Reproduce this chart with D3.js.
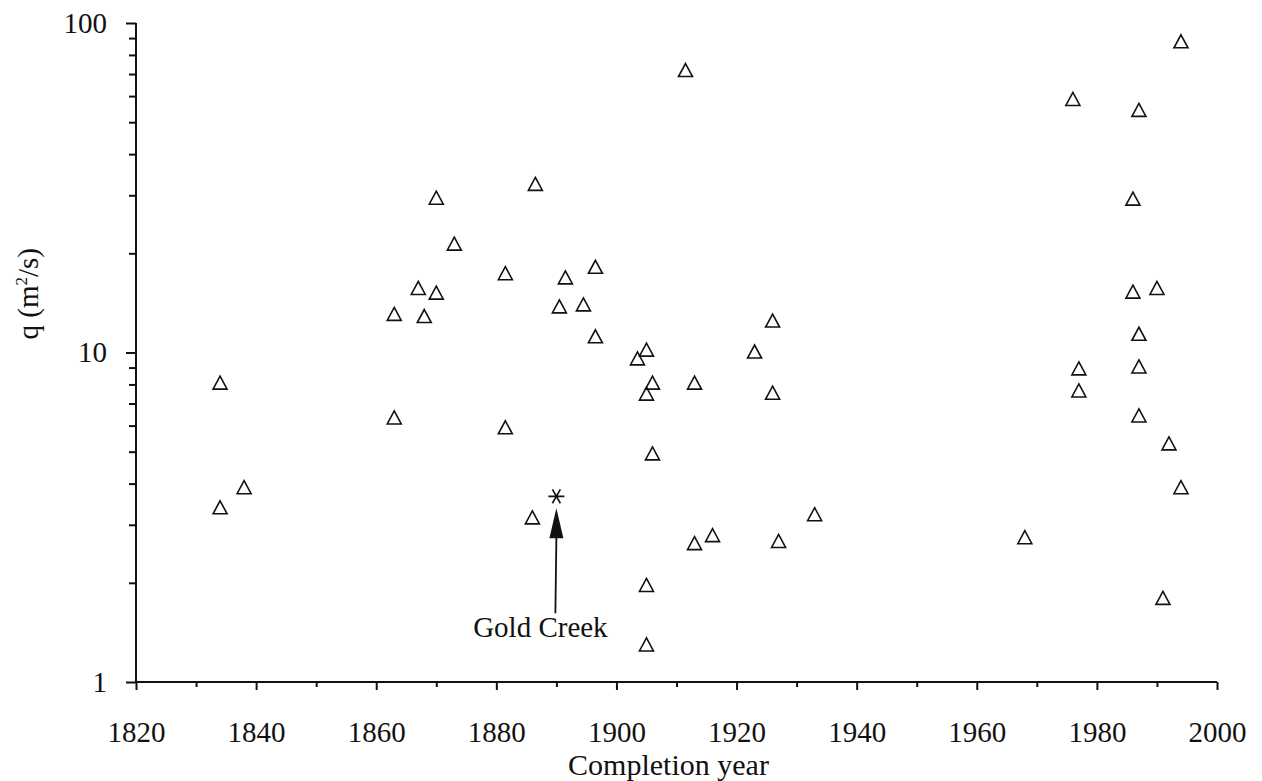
<!DOCTYPE html>
<html>
<head>
<meta charset="utf-8">
<script src="https://cdn.jsdelivr.net/npm/d3@7"></script>
<style>
  html, body { margin: 0; padding: 0; background: #fff; }
  svg { display: block; }
  text { font-family: "Liberation Serif", "Times New Roman", serif; fill: #111; }
</style>
</head>
<body>
<svg id="chart" width="1262" height="781"></svg>
<script>
// ---- data ----
const years = [1834, 1834, 1838, 1863, 1863, 1867, 1868, 1870, 1870, 1873,
  1881.5, 1881.5, 1886.5, 1886, 1890.5, 1891.5, 1894.5, 1896.5, 1896.5, 1903.5,
  1905, 1905, 1906, 1906, 1905, 1905, 1911.5, 1913, 1913, 1916,
  1923, 1926, 1926, 1927, 1933, 1968, 1976, 1977, 1977, 1987,
  1986, 1986, 1990, 1987, 1987, 1987, 1992, 1994, 1991, 1994];
const qValues = [8.1, 3.39, 3.9, 13.1, 6.35, 15.7, 12.9, 29.5, 15.2, 21.4,
  17.4, 5.93, 32.5, 3.16, 13.8, 16.9, 14.0, 18.2, 11.2, 9.6,
  10.2, 7.5, 8.1, 4.94, 1.97, 1.30, 72, 8.1, 2.64, 2.79,
  10.07, 12.5, 7.55, 2.68, 3.23, 2.75, 58.8, 8.95, 7.67, 54.5,
  29.3, 15.3, 15.7, 11.4, 9.07, 6.44, 5.3, 3.9, 1.8, 88];
const highlightYear = [1890];
const highlightQ = [3.66];
const highlightLabel = ["Gold Creek"];
const xMajorTicks = [1820, 1840, 1860, 1880, 1900, 1920, 1940, 1960, 1980, 2000];
const xMinorTicks = [1830, 1850, 1870, 1890, 1910, 1930, 1950, 1970, 1990];
const yMajorTicks = [1, 10, 100];
const yMinorTicks = [2, 3, 4, 5, 6, 7, 8, 9, 20, 30, 40, 50, 60, 70, 80, 90];
const xTitle = "Completion year";

// ---- chart ----
const svg = d3.select("#chart");
const x = d3.scaleLinear().domain([1820, 2000]).range([136, 1217]);
const y = d3.scaleLog().domain([1, 100]).range([682, 23]);
const axisColor = "#111";

// x axis
const gx = svg.append("g").attr("transform", `translate(0,${y(1)})`);
gx.call(d3.axisBottom(x).tickValues(xMajorTicks).tickSize(8).tickPadding(31).tickFormat(d3.format("d")));
const gxm = svg.append("g").attr("transform", `translate(0,${y(1)})`);
gxm.call(d3.axisBottom(x).tickValues(xMinorTicks).tickSize(5).tickFormat(""));
gxm.select(".domain").remove();

// y axis
const gy = svg.append("g").attr("transform", `translate(${x(1820)},0)`);
gy.call(d3.axisLeft(y).tickValues(yMajorTicks).tickSize(10).tickPadding(19).tickFormat(d3.format("d")));
const gym = svg.append("g").attr("transform", `translate(${x(1820)},0)`);
gym.call(d3.axisLeft(y).tickValues(yMinorTicks).tickSize(7).tickFormat(""));
gym.select(".domain").remove();

gx.select(".domain").attr("d", `M${x(1820)},0H${x(2000)}`);
gy.select(".domain").attr("d", `M0,${y(1)}V${y(100)}`);
svg.selectAll(".domain").attr("stroke", axisColor).attr("stroke-width", 2);
svg.selectAll(".tick line").attr("stroke", axisColor).attr("stroke-width", 2);
svg.selectAll(".tick text").attr("font-size", 29).attr("font-family", "Liberation Serif").attr("fill", "#111");

// axis titles
svg.append("text")
  .attr("x", (x(1820) + x(2000)) / 2 - 8)
  .attr("y", 775)
  .attr("text-anchor", "middle")
  .attr("font-size", 30)
  .text(xTitle);

const yt = svg.append("text")
  .attr("transform", `translate(38,${(y(10) + y(100)) / 2 + 106}) rotate(-90)`)
  .attr("text-anchor", "middle")
  .attr("font-size", 29);
yt.append("tspan").text("q (m");
yt.append("tspan").attr("font-size", 17).attr("dy", -11).text("2");
yt.append("tspan").attr("dy", 11).text("/s)");

// triangle markers
const pts = years.map((d, i) => ({ year: d, q: qValues[i] }));
const tri = "M0,-6.5L7,6.5L-7,6.5Z";
svg.append("g").selectAll("path").data(pts).join("path")
  .attr("d", tri)
  .attr("transform", d => `translate(${x(d.year)},${y(d.q)})`)
  .attr("fill", "none")
  .attr("stroke", "#111")
  .attr("stroke-width", 1.6)
  .attr("stroke-linejoin", "miter");

// highlighted (asterisk) point with arrow and label
const hp = highlightYear.map((d, i) => ({ year: d, q: highlightQ[i], label: highlightLabel[i] }));
const hg = svg.append("g");
hp.forEach(d => {
  const cx = x(d.year), cy = y(d.q);
  const p = d3.path();
  const r = 8;
  for (const a of [0, 60, 120]) {
    const rad = a * Math.PI / 180;
    p.moveTo(cx - r * Math.cos(rad), cy - r * Math.sin(rad));
    p.lineTo(cx + r * Math.cos(rad), cy + r * Math.sin(rad));
  }
  hg.append("path").attr("d", p.toString()).attr("stroke", "#111").attr("stroke-width", 1.6).attr("fill", "none");
  // arrow
  const tipY = cy + 12, baseY = cy + 42, endY = cy + 117;
  hg.append("line").attr("x1", cx).attr("x2", cx - 1).attr("y1", baseY - 2).attr("y2", endY)
    .attr("stroke", "#111").attr("stroke-width", 1.8);
  hg.append("path").attr("d", `M${cx},${tipY}L${cx + 7},${baseY}L${cx - 7},${baseY}Z`).attr("fill", "#111");
  hg.append("text").attr("x", cx - 16).attr("y", cy + 141).attr("text-anchor", "middle")
    .attr("font-size", 29).text(d.label);
});
</script>
</body>
</html>
